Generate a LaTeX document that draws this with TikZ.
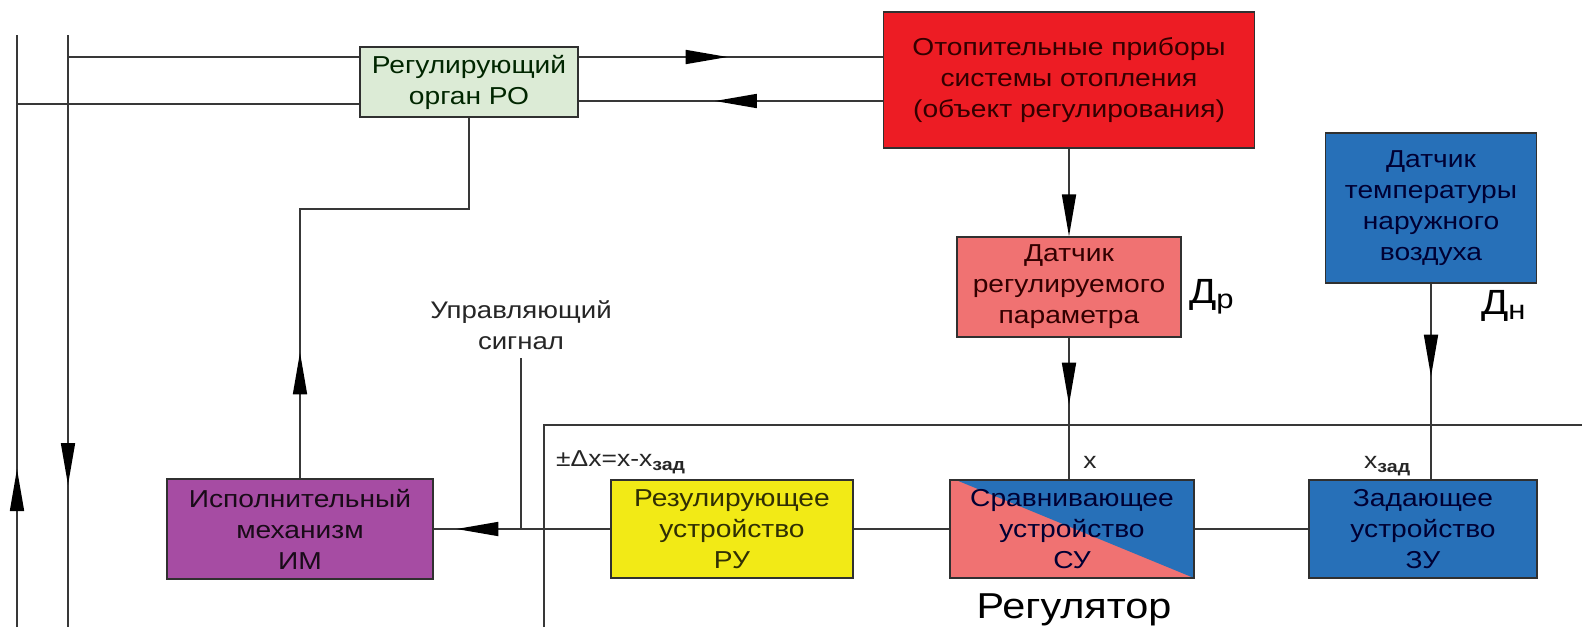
\documentclass[tikz,border=0pt]{standalone}
\usepackage{fontspec}
\setmainfont{Liberation Sans}[FakeStretch=1.15]
\usetikzlibrary{arrows.meta,decorations.markings}
\definecolor{cred}{HTML}{ED1C24}
\definecolor{cgreen}{HTML}{DCEBD6}
\definecolor{cpink}{HTML}{F07272}
\definecolor{cpurple}{HTML}{A64CA3}
\definecolor{cyellow}{HTML}{F2EA16}
\definecolor{cblue}{HTML}{2770B8}
\definecolor{linegray}{HTML}{383838}
\definecolor{boxline}{HTML}{303030}
\newcommand\mysub[1]{\raisebox{-0.4ex}{\fontsize{17}{17}\selectfont\bfseries #1}}
\tikzset{
  box/.style={draw=boxline, line width=1.2pt, inner sep=0pt, align=center,
    font=\fontsize{24.5}{31}\selectfont},
  conn/.style={draw=linegray, line width=1.7pt},
  lbl/.style={inner sep=0pt, align=center, font=\fontsize{24}{31}\selectfont, text=black!85},
  midarrow/.style={postaction={decorate}, decoration={markings,
    mark=at position #1 with {\arrow{Triangle[length=42pt,width=14pt,color=black]}}}}
}
\begin{document}
\begin{tikzpicture}[x=1pt,y=-1pt]
\useasboundingbox[fill=white] (0,0) rectangle (1582,627);

% boxes
\node[box, fill=cgreen, text=black!85!green, minimum width=218pt, minimum height=70pt] (go) at (469,82) {Регулирующий\\орган РО};
\node[box, fill=cred, text=black!80!red, minimum width=371pt, minimum height=136pt] (obj) at (1069,80) {Отопительные приборы\\системы отопления\\(объект регулирования)};
\node[box, fill=cpink, text=black!80!red, minimum width=224pt, minimum height=100pt] (dr) at (1069,287) {Датчик\\регулируемого\\параметра};
\node[box, fill=cblue, text=black!80!blue, minimum width=211pt, minimum height=150pt] (dn) at (1431,208) {Датчик\\температуры\\наружного\\воздуха};
\node[box, fill=cpurple, text=black!85!cpurple, minimum width=266pt, minimum height=100pt] (im) at (300,529) {Исполнительный\\механизм\\ИМ};
\node[box, fill=cyellow, text=black!80!cyellow, minimum width=242pt, minimum height=98pt] (ru) at (732,529) {Резулирующее\\устройство\\РУ};
\node[box, fill=cpink, text=black!80!blue, minimum width=244pt, minimum height=98pt,
  path picture={\fill[cblue] ([xshift=6pt]path picture bounding box.north west) -- (path picture bounding box.north east) -- (path picture bounding box.south east) -- cycle;}] (su) at (1072,529) {Сравнивающее\\устройство\\СУ};
\node[box, fill=cblue, text=black!80!blue, minimum width=228pt, minimum height=98pt] (zu) at (1423,529) {Задающее\\устройство\\ЗУ};

% coordinates
\coordinate (a1) at (17,35);
\coordinate (a2) at (17,627);
\coordinate (a3) at (17,104);
\coordinate (b1) at (68,35);
\coordinate (b2) at (68,627);
\coordinate (b3) at (68,57);
\coordinate (r1) at (0,101);
\coordinate (k1) at (300,209);
\coordinate (cs) at (521,358);
\coordinate (f1) at (544,627);
\coordinate (f2) at (544,425);
\coordinate (f3) at (1582,425);

% connectors
\draw[conn, midarrow=158pt] (a2) -- (a1);
\draw[conn, midarrow=450pt] (b1) -- (b2);
\draw[conn] (a3) -- (a3 -| go.west);
\draw[conn] (b3) -- (b3 -| go.west);
\draw[conn, midarrow=149pt] (go.east |- b3) -- (obj.west |- b3);
\draw[conn, midarrow=168pt] (obj.west |- r1) -- (go.east |- r1);
\draw[conn, midarrow=126pt] (im.north) -- (im.north |- k1) -- (go.south |- k1) -- (go.south);
\draw[conn, midarrow=154pt] (ru.west) -- (im.east);
\draw[conn] (cs) -- (cs |- ru.west);
\draw[conn] (f1) -- (f2) -- (f3);
\draw[conn, -{Triangle[length=42pt,width=14pt,color=black]}] (obj.south) -- (obj.south |- dr.north);
\draw[conn, midarrow=67pt] (dr.south) -- (dr.south |- su.north);
\draw[conn, midarrow=93pt] (dn.south) -- (dn.south |- zu.north);
\draw[conn] (ru.east) -- (su.west);
\draw[conn] (su.east) -- (zu.west);

% labels
\node[lbl] (csl) at (521,325) {Управляющий\\сигнал};
\node[lbl, anchor=base west, font=\fontsize{23}{26}\selectfont] (dxl) at (556,466) {±Δx=x-x\mysub{зад}};
\node[lbl, anchor=base, font=\fontsize{23}{26}\selectfont] (xl) at (1090,468) {x};
\node[lbl, anchor=base west, font=\fontsize{23}{26}\selectfont] (xzl) at (1364,468) {x\mysub{зад}};
\node[lbl, anchor=base west, text=black, font=\fontsize{35}{35}\selectfont] (dpl) at (1189,303) {Д\raisebox{-0.3ex}{\fontsize{27}{27}\selectfont р}};
\node[lbl, anchor=base west, text=black, font=\fontsize{35}{35}\selectfont] (dnl) at (1481,314) {Д\raisebox{-0.3ex}{\fontsize{27}{27}\selectfont н}};
\node[lbl, anchor=base, text=black, font=\fontsize{36}{36}\selectfont] (regl) at (1074,618) {Регулятор};
\end{tikzpicture}
\end{document}
